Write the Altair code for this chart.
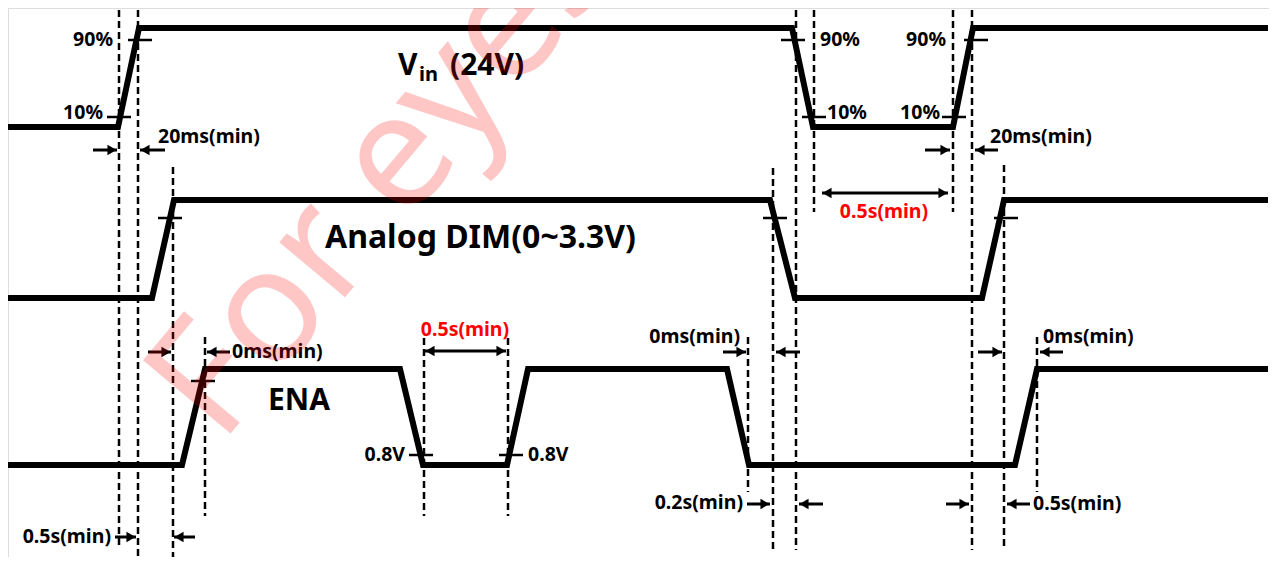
import altair as alt
import pandas as pd

# ---------------- data ----------------
# waveform vertices: time position and logic level (0 = low, 1 = high)
vin_t  = [8, 118, 139, 792, 813, 953, 973, 1268]
vin_lv = [0, 0, 1, 1, 0, 0, 1, 1]
dim_t  = [8, 152, 174, 770, 795, 982, 1004, 1268]
dim_lv = [0, 0, 1, 1, 0, 0, 1, 1]
ena_t  = [8, 182, 205, 400, 423, 507, 528, 727, 749, 1015, 1037, 1268]
ena_lv = [0, 0, 1, 1, 0, 0, 1, 1, 0, 0, 1, 1]
lane_low  = {"Vin": 127, "DIM": 298, "ENA": 465}
lane_high = {"Vin": 28, "DIM": 200, "ENA": 369}

# dashed timing markers
mark_t  = [119, 138, 173, 205, 424, 508, 748, 773, 796, 814, 953, 972, 1004, 1037]
mark_y0 = [10, 10, 167, 337, 338, 338, 337, 168, 10, 10, 10, 10, 165, 337]
mark_y1 = [547, 565, 565, 516, 516, 516, 492, 550, 550, 212, 212, 550, 550, 492]

# threshold ticks (centre time, level position)
tick_t = [140, 119, 793, 814, 954, 976, 170, 775, 1006, 203, 421, 511]
tick_y = [40, 117, 40, 117, 117, 40, 218, 218, 218, 381, 455, 455]

# single arrows: tail, head, row
arr_tail = [93, 165, 925, 998, 148, 230, 723, 800, 978, 1063, 747, 823, 946, 1030, 115, 195]
arr_head = [117, 140, 950, 975, 171, 207, 746, 776, 1002, 1040, 770, 799, 969, 1007, 136, 174]
arr_row  = [150, 150, 150, 150, 352, 352, 352, 352, 352, 352, 504, 504, 504, 504, 537, 537]
# double arrows
dbl_a   = [822, 425]
dbl_b   = [948, 506]
dbl_row = [193, 351]

# small labels
lab_text  = ["90%", "10%", "20ms(min)", "90%", "10%", "90%", "10%", "20ms(min)",
             "0.5s(min)", "0ms(min)", "0.5s(min)", "0.8V", "0.8V", "0ms(min)",
             "0ms(min)", "0.2s(min)", "0.5s(min)", "0.5s(min)"]
lab_t     = [113, 103, 158, 820, 827, 946, 940, 990,
             884, 232, 465, 405, 528, 740, 1043, 743, 1033, 111]
lab_y     = [40, 113, 137, 40, 113, 40, 113, 137,
             212, 352, 330, 455, 455, 337, 337, 503, 504, 537]
lab_align = ["right", "right", "left", "left", "left", "right", "right", "left",
             "center", "left", "center", "right", "left", "right", "left", "right", "left", "right"]
lab_color = ["black"] * 8 + ["red", "black", "red"] + ["black"] * 7

# signal names
name_text = ["V", "in", "(24V)", "Analog DIM(0~3.3V)", "ENA"]
name_t    = [398, 419, 450, 325, 268]
name_y    = [75, 81, 75, 248, 410]
name_size = [30, 20, 30, 32, 30]

# watermark
wm_text = ["For eyes"]
wm_t = [384]
wm_y = [176]

# ---------------- build tables ----------------
rows = []
for sig, ts, lv in [("Vin", vin_t, vin_lv), ("DIM", dim_t, dim_lv), ("ENA", ena_t, ena_lv)]:
    for i, (t, l) in enumerate(zip(ts, lv)):
        rows.append({"sig": sig, "o": i, "t": t, "y": lane_high[sig] if l else lane_low[sig]})
wave = pd.DataFrame(rows)
marks = pd.DataFrame({"t": mark_t, "y0": mark_y0, "y1": mark_y1})
ticks = pd.DataFrame({"a": [t - 12 for t in tick_t], "b": [t + 12 for t in tick_t], "y": tick_y})

shafts = pd.DataFrame({"a": arr_tail + dbl_a, "b": arr_head + dbl_b, "y": arr_row + dbl_row})
heads = []
for tl, hd, r in zip(arr_tail, arr_head, arr_row):
    d = 1 if hd > tl else -1
    heads.append({"t": hd - d * 5, "y": r, "dir": "R" if d > 0 else "L"})
for a, b, r in zip(dbl_a, dbl_b, dbl_row):
    heads.append({"t": a + 5, "y": r, "dir": "L"})
    heads.append({"t": b - 5, "y": r, "dir": "R"})
heads = pd.DataFrame(heads)

labels = pd.DataFrame({"text": lab_text, "t": lab_t, "y": lab_y,
                       "align": lab_align, "color": lab_color})
names = pd.DataFrame({"text": name_text, "t": name_t, "y": name_y, "size": name_size})
wm = pd.DataFrame({"text": wm_text, "t": wm_t, "y": wm_y})

# ---------------- chart ----------------
XS = alt.Scale(domain=[8, 1269], nice=False, zero=False)
YS = alt.Scale(domain=[8, 557], nice=False, zero=False, reverse=True)
FONT = "Noto Sans"

def X(f):
    return alt.X(f, type="quantitative", scale=XS, axis=None)

def Y(f):
    return alt.Y(f, type="quantitative", scale=YS, axis=None)

wave_l = alt.Chart(wave).mark_line(color="black", strokeWidth=6, strokeJoin="miter").encode(
    x=X("t"), y=Y("y"), detail="sig:N", order="o:Q")

dash_l = alt.Chart(marks).mark_rule(color="black", strokeWidth=2.5, strokeDash=[7, 4]).encode(
    x=X("t"), y=Y("y0"), y2="y1:Q")

tick_l = alt.Chart(ticks).mark_rule(color="black", strokeWidth=2.5).encode(
    x=X("a"), x2="b:Q", y=Y("y"))

shaft_l = alt.Chart(shafts).mark_rule(color="black", strokeWidth=3).encode(
    x=X("a"), x2="b:Q", y=Y("y"))

head_r = alt.Chart(heads).transform_filter(alt.datum.dir == "R").mark_point(
    shape="triangle-right", filled=True, color="black", size=110, opacity=1).encode(x=X("t"), y=Y("y"))
head_lft = alt.Chart(heads).transform_filter(alt.datum.dir == "L").mark_point(
    shape="triangle-left", filled=True, color="black", size=110, opacity=1).encode(x=X("t"), y=Y("y"))

text_layers = []
for al in ["left", "right", "center"]:
    text_layers.append(
        alt.Chart(labels).transform_filter(alt.datum.align == al).mark_text(
            align=al, baseline="middle", font=FONT, fontWeight="bold", fontSize=19.5).encode(
            x=X("t"), y=Y("y"), text="text:N", color=alt.Color("color:N", scale=None)))

name_l = alt.Chart(names).mark_text(align="left", baseline="alphabetic", font=FONT,
                                     fontWeight="bold", color="black").encode(
    x=X("t"), y=Y("y"), text="text:N", size=alt.Size("size:Q", scale=None, legend=None))

wm_l = alt.Chart(wm).mark_text(align="center", baseline="middle", font=FONT, fontSize=160,
                               angle=310, color="red", opacity=0.22).encode(
    x=X("t"), y=Y("y"), text="text:N")

chart = alt.layer(wave_l, dash_l, tick_l, shaft_l, head_r, head_lft, *text_layers, name_l, wm_l).properties(
    width=1261, height=549, padding=0, autosize=alt.AutoSizeParams(type="none")
).configure_view(stroke=None).configure(background="white")

chart.save("out.html", embed_options={"renderer": "svg", "actions": False})
